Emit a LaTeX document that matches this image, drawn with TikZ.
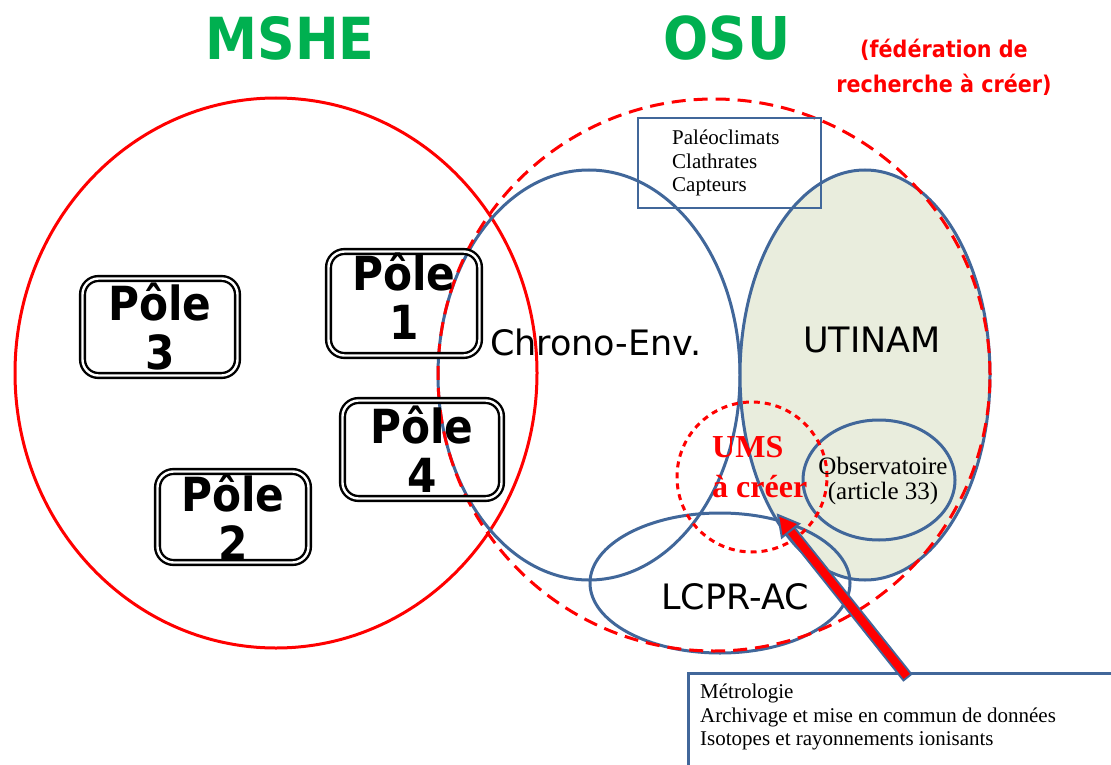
\documentclass[tikz,border=0pt]{standalone}
\usepackage{fontspec}
\setmainfont{Liberation Serif}
\setsansfont{DejaVu Sans}
\newfontfamily\condsf[FakeStretch=0.9]{DejaVu Sans}
\usepackage{tikz}
\usetikzlibrary{calc}
\definecolor{figred}{RGB}{255,0,0}
\definecolor{figgreen}{RGB}{0,176,80}
\definecolor{figblue}{RGB}{65,103,154}
\definecolor{utifill}{RGB}{233,237,221}
\tikzstyle{venn} = [draw=figblue, line width=3pt]
\tikzstyle{labbox} = [draw=figblue, line width=2.8pt, inner sep=0pt]
\tikzstyle{pole} = [draw=black, line width=2.4pt, double=white, double distance=2.4pt, rounded corners=16pt, inner sep=0pt, align=center, font=\condsf\bfseries\fontsize{47}{49}\selectfont]
\tikzstyle{unitname} = [inner sep=0pt, font=\sffamily\fontsize{35}{40}\selectfont]
\tikzstyle{smalltxt} = [inner sep=0pt, align=left, font=\fontsize{21}{23.5}\selectfont]

\begin{document}
\begin{tikzpicture}[x=1pt, y=-1pt]
    \useasboundingbox (0,0) rectangle (1111,765);
    \clip (0,0) rectangle (1111,765);
    % titles
    \node[inner sep=0pt, text=figgreen, font=\condsf\bfseries\fontsize{58}{60}\selectfont] (mshe) at (290,38) {MSHE};
    \node[inner sep=0pt, text=figgreen, font=\condsf\bfseries\fontsize{59}{60}\selectfont] (osu) at (727,38) {OSU};
    \node[inner sep=0pt, align=center, text=figred, font=\condsf\bfseries\fontsize{23}{35}\selectfont] (fede) at (944,67) {(fédération de\\recherche à créer)};
    % MSHE and the units
    \draw[figred, line width=3pt] (276,373) ellipse [x radius=261pt, y radius=275pt];
    \draw[venn] (589,375) ellipse [x radius=151pt, y radius=205pt];
    \draw[venn, fill=utifill] (865,375) ellipse [x radius=125pt, y radius=205pt];
    \draw[venn] (879,480) ellipse [x radius=76pt, y radius=60pt];
    \draw[venn] (720,583) ellipse [x radius=130pt, y radius=70pt];
    \draw[figred, line width=3pt, dash pattern=on 14pt off 8pt] (714,375) circle [radius=276pt];
    \draw[figred, line width=3pt, dash pattern=on 6pt off 5pt] (752,477) circle [radius=75pt];
    % poles
    \node[pole, minimum width=155pt, minimum height=97pt] (pole3) at (160,327) {Pôle\\3};
    \node[pole, minimum width=151pt, minimum height=104pt, text depth=14pt] (pole1) at (404,303.5) {Pôle\\1};
    \node[pole, minimum width=159pt, minimum height=98pt] (pole4) at (422,449.5) {Pôle\\4};
    \node[pole, minimum width=151pt, minimum height=91pt] (pole2) at (233,517) {Pôle\\2};
    % labels
    \node[unitname] (chrono) at (596,342) {Chrono-Env.};
    \node[unitname] (utinam) at (872,340) {UTINAM};
    \node[unitname] (lcpr) at (735,597) {LCPR-AC};
    \node[inner sep=0pt, anchor=west, align=left, text=figred, font=\bfseries\fontsize{32}{40}\selectfont] (ums) at (712,467.5) {UMS\\à créer};
    \node[inner sep=0pt, align=center, font=\fontsize{25}{25}\selectfont] (obs) at (883,481) {Observatoire\\(article 33)};
    \node[labbox, minimum width=183pt, minimum height=90pt] (paleo) at (729.5,163) {};
    \node[smalltxt, anchor=west] (paleotxt) at (672,163) {Paléoclimats\\Clathrates\\Capteurs};
    % bottom box and arrow
    \node[labbox, anchor=north west, minimum width=440pt, minimum height=110pt] (metbox) at (687,672) {};
    \node[smalltxt, anchor=north west] (mettxt) at (700,684) {Métrologie\\Archivage et mise en commun de données\\Isotopes et rayonnements ionisants};
    \coordinate (arrtail) at (908,678);
    \coordinate (arrtip) at (778,515);
    \coordinate (headbase) at ($(arrtip)!20pt!(arrtail)$);
    \draw[figblue, line width=12pt] (arrtail) -- ($(arrtip)!16pt!(arrtail)$);
    \draw[figred, line width=8pt] ($(arrtail)!2pt!(arrtip)$) -- ($(arrtip)!14pt!(arrtail)$);
    \draw[figblue, fill=figred, line width=2pt] (arrtip) -- ($(headbase)!11pt!90:(arrtip)$) -- ($(headbase)!11pt!-90:(arrtip)$) -- cycle;
\end{tikzpicture}
\end{document}
